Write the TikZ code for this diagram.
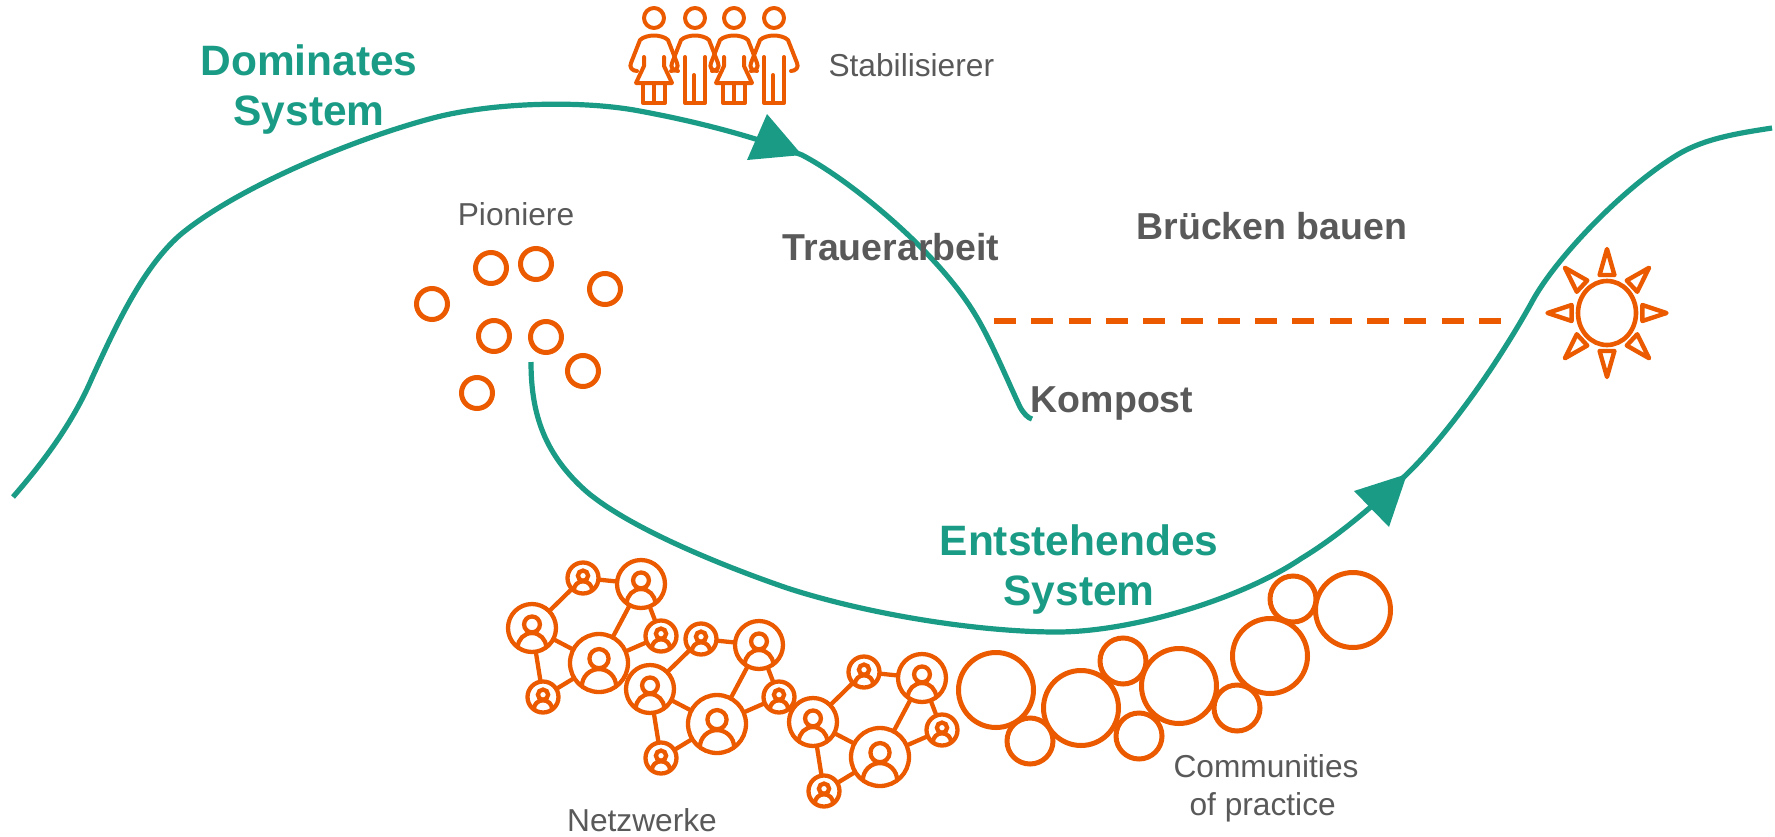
\documentclass[tikz,border=0pt]{standalone}
\usepackage{fontspec}
\setmainfont{Liberation Sans}
\usepackage{xcolor}
\usetikzlibrary{calc,shapes.geometric}
\definecolor{teal1}{RGB}{26,155,133}
\definecolor{orange1}{RGB}{236,90,0}
\definecolor{grey1}{RGB}{89,89,89}
\tikzset{
  flow/.style={draw=teal1, line width=5.2pt},
  bigteal/.style={text=teal1, font=\fontsize{42.5}{50}\selectfont\bfseries, align=center},
  boldgrey/.style={text=grey1, font=\fontsize{37.5}{44}\selectfont\bfseries},
  smallgrey/.style={text=grey1, font=\fontsize{31.7}{38}\selectfont},
  fig/.style={draw=orange1, line width=4pt, line join=round, line cap=round},
  ray/.style={draw=orange1, line width=4.4pt, line join=round},
  ring/.style={circle, draw=orange1, line width=5pt, outer sep=0pt, inner sep=0pt, minimum size=2*#1 pt},
  link/.style={draw=orange1, line width=4.3pt},
  member/.style={circle, draw=orange1, line width=4.3pt, outer sep=0pt, inner sep=0pt, minimum size=2*#1 pt,
    path picture={
      \draw[orange1, line width=4.3pt] ($(path picture bounding box.center)+(0,{-.15*#1})$) circle ({.33*#1});
      \draw[orange1, line width=4.3pt] ($(path picture bounding box.center)+(0,{.8*#1})$) circle ({.59*#1});
    }},
  pics/arms/.style={code={
    \draw[fig] (0,0) circle (10);
    \draw[fig] (-17,53) .. controls (-22,53) and (-25,49) .. (-23,45) -- (-14,22) .. controls (-11,19) and (-5,17.5) .. (0,17.5)
       .. controls (5,17.5) and (11,19) .. (14,22) -- (23,45) .. controls (25,49) and (22,53) .. (17,53);
  }},
  pics/woman/.style={code={
    \pic {arms};
    \draw[fig] (-10,39) -- (-10,48) -- (-18,65) -- (18,65) -- (10,48) -- (10,39);
    \draw[fig] (-11,65) -- (-11,85) -- (11,85) -- (11,65) (0,65) -- (0,85);
  }},
  pics/man/.style={code={
    \pic {arms};
    \draw[fig] (-10,39) -- (-10,85) -- (10,85) -- (10,39) (-1,85) -- (-1,57);
  }}
}
\begin{document}
\begin{tikzpicture}[x=1pt, y=-1pt]
\useasboundingbox (0,0) rectangle (1775,836);

\coordinate (domstart) at (13,497);
\coordinate (domend) at (1032,419);
\coordinate (newstart) at (531,362);
\coordinate (newend) at (1772,128);
\coordinate (dashstart) at (994,321);
\coordinate (dashend) at (1501,321);

% curves
\draw[flow] (domstart) .. controls (40,466) and (72,425) .. (92,378)
  .. controls (112,335) and (140,270) .. (180,235)
  .. controls (235,189) and (350,140) .. (433,118)
  .. controls (490,103) and (575,100) .. (634,110)
  .. controls (690,120) and (750,135) .. (802,155)
  .. controls (850,180) and (935,250) .. (973,311)
  .. controls (990,338) and (1005,375) .. (1020,407)
  .. controls (1024,414) and (1028,418) .. (domend);
\draw[flow] (newstart) .. controls (531,415) and (545,455) .. (587,492)
  .. controls (630,528) and (720,565) .. (787,588)
  .. controls (870,615) and (980,632) .. (1057,632)
  .. controls (1130,632) and (1240,600) .. (1302,558)
  .. controls (1340,535) and (1380,500) .. (1407,474)
  .. controls (1450,432) and (1500,360) .. (1533,300)
  .. controls (1555,260) and (1620,190) .. (1677,155)
  .. controls (1705,138) and (1740,133) .. (newend);
\fill[teal1] (767,114) -- (802,155) -- (747,160) -- cycle;
\fill[teal1] (1407,474) -- (1389,527) -- (1354,491) -- cycle;
\draw[draw=orange1, line width=5.2pt, dash pattern=on 22pt off 15.3pt] (dashstart) -- (dashend);

% stabilisierer
\pic at (654,18) {woman};
\pic at (695,18) {man};
\pic at (734,18) {woman};
\pic at (774,18) {man};

% pioniere
\foreach \x/\y [count=\i] in {491/268, 536/264, 605/289, 432/304, 494/336, 546/337, 583/371, 477/393}
  \node[ring=15.5] (p\i) at (\x,\y) {};

% netzwerke
\foreach \n/\dx/\dy in {1/0/0, 2/118/61, 3/281/94} {
  \begin{scope}[shift={(\dx,\dy)}]
  \node[member=24] (a\n) at (532,628) {};
  \node[member=15.5] (b\n) at (583,578) {};
  \node[member=24] (c\n) at (641,584) {};
  \node[member=29] (d\n) at (599,663) {};
  \node[member=15.5] (e\n) at (661,636) {};
  \node[member=15.5] (f\n) at (543,697) {};
  \draw[link] (a\n) -- (b\n);
  \draw[link] (b\n) -- (c\n);
  \draw[link] (c\n) -- (d\n);
  \draw[link] (c\n) -- (e\n);
  \draw[link] (a\n) -- (d\n);
  \draw[link] (d\n) -- (e\n);
  \draw[link] (a\n) -- (f\n);
  \draw[link] (f\n) -- (d\n);
  \end{scope}
}

% communities
\foreach \x/\y/\r [count=\i] in {996/690/37.5, 1030/741/23, 1081/708/37.5, 1123/661/23, 1139/736/23, 1179/686/37.5, 1237/708/23, 1270/656/37.5, 1293/599/23, 1353/610/37.5}
  \node[ring=\r] (k\i) at (\x,\y) {};

% sonne
\node[ellipse, draw=orange1, line width=4.6pt, outer sep=0pt, inner sep=0pt, minimum width=58pt, minimum height=64pt] (sun) at (1607,313) {};
\foreach \a in {0,45,...,315}
  \draw[ray, shift={(sun)}, xscale=.93, rotate=\a] (-8,-38) -- (0,-64) -- (8,-38) -- cycle;

% texte
\node[bigteal] (dom) at (309,90) {Dominates\\System};
\node[bigteal] (ent) at (1079,570) {Entstehendes\\System};
\node[smallgrey, anchor=west] (stab) at (825,65) {Stabilisierer};
\node[smallgrey] (pion) at (516,214) {Pioniere};
\node[boldgrey] (trauer) at (891,247) {Trauerarbeit};
\node[boldgrey] (bruecken) at (1272,226) {Brücken bauen};
\node[boldgrey] (kompost) at (1112,403) {Kompost};
\node[smallgrey, inner sep=0pt] (netz) at (642,820) {Netzwerke};
\node[smallgrey, align=left, anchor=west] (comm) at (1170,788) {Communities\\\hspace*{16pt}of practice};
\end{tikzpicture}
\end{document}
